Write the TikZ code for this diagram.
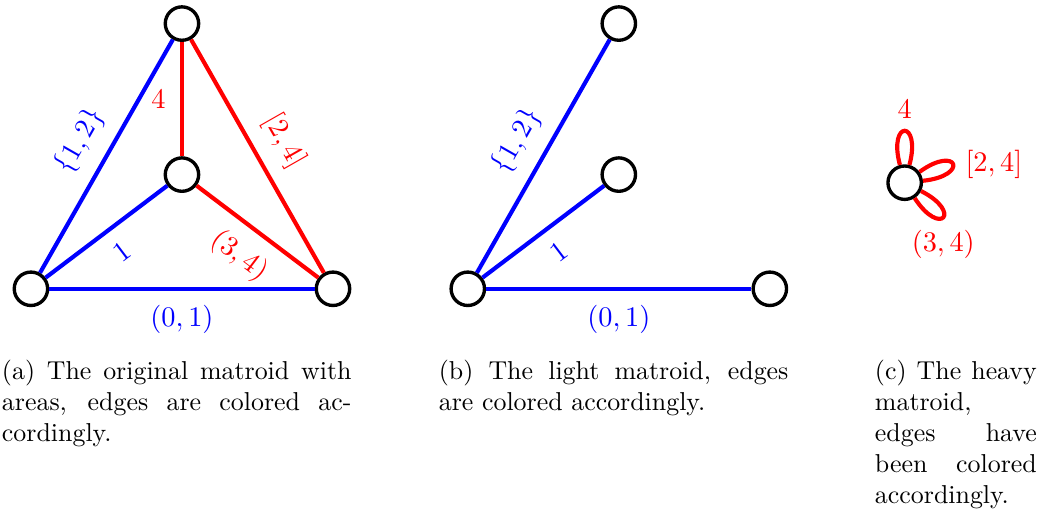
\documentclass[tikz,border=0pt]{standalone}
\usepackage{tikz}

\begin{document}
\begin{tikzpicture}[
  vertice/.style={circle, draw=black, line width=1.3pt, fill=white,
    minimum size=12.9pt, inner sep=0pt},
  leggero/.style={colLeggero, line width=1.6pt},
  pesante/.style={colPesante, line width=1.6pt},
  etichetta/.style={font=\fontsize{11}{13}\selectfont, inner sep=5.5pt},
  etichettaCappio/.style={font=\fontsize{11}{13}\selectfont, inner sep=4pt},
  didascalia/.style={anchor=north west, inner sep=0pt, align=justify}
]

% Colori
\definecolor{colLeggero}{HTML}{0000FF}
\definecolor{colPesante}{HTML}{FF0000}

% Spostamento del secondo grafo
\def\dx{5.93}

\useasboundingbox (0,0) rectangle (14.09,6.96);

% (a) Matroide originale
\node[vertice] (oL) at (0.42,3.04) {};
\node[vertice] (oR) at (4.52,3.04) {};
\node[vertice] (oT) at (2.47,6.64) {};
\node[vertice] (oC) at (2.47,4.59) {};

\draw[leggero] (oL) -- node[etichetta, below] {$(0,1)$} (oR);
\draw[leggero] (oL) -- node[etichetta, above, sloped] {$\{1,2\}$} (oT);
\draw[leggero] (oL) -- node[etichetta, below, sloped] {$1$} (oC);
\draw[pesante] (oT) -- node[etichetta, left] {$4$} (oC);
\draw[pesante] (oT) -- node[etichetta, above, sloped] {$[2,4]$} (oR);
\draw[pesante] (oC) -- node[etichetta, below, sloped] {$(3,4)$} (oR);

% (b) Matroide leggero
\node[vertice] (lL) at (0.42+\dx,3.04) {};
\node[vertice] (lR) at (4.52+\dx,3.04) {};
\node[vertice] (lT) at (2.47+\dx,6.64) {};
\node[vertice] (lC) at (2.47+\dx,4.59) {};

\draw[leggero] (lL) -- node[etichetta, below] {$(0,1)$} (lR);
\draw[leggero] (lL) -- node[etichetta, above, sloped] {$\{1,2\}$} (lT);
\draw[leggero] (lL) -- node[etichetta, below, sloped] {$1$} (lC);

% (c) Matroide pesante
\node[vertice] (hC) at (12.28,4.48) {};

\draw[pesante] (hC) to[out=105,in=75,distance=0.64cm]
  node[etichettaCappio, above] {$4$} (hC);
\draw[pesante] (hC) to[out=36,in=6,distance=0.64cm]
  node[etichettaCappio, right] {$[2,4]$} (hC);
\draw[pesante] (hC) to[out=-27,in=-57,distance=0.64cm]
  node[etichettaCappio, below] {$(3,4)$} (hC);

% Didascalie
\node[didascalia, text width=135pt] (capA) at (0.02,2.08)
  {(a) The original matroid with areas, edges are colored ac-\linebreak cordingly.};
\node[didascalia, text width=135pt] (capB) at (5.95,2.08)
  {(b) The light matroid, edges are colored accordingly.};
\node[didascalia, text width=62.5pt] (capC) at (11.87,2.08)
  {(c) The heavy matroid, edges have been colored accordingly.};

\end{tikzpicture}
\end{document}
